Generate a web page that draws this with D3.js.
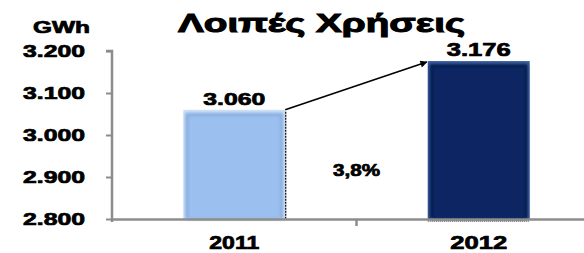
<!DOCTYPE html>
<html><head><meta charset="utf-8">
<script src="https://cdn.jsdelivr.net/npm/d3@7"></script>
<style>html,body{margin:0;padding:0;background:#fff;overflow:hidden}svg{display:block}text{font-family:"Liberation Sans",Arial,sans-serif;font-weight:bold;fill:#000;stroke:#000;stroke-width:0.7px}</style>
</head><body><svg id="c" width="584" height="253"></svg>
<script>
const categories = ["2011", "2012"];
const values = [3060, 3176];
const valueLabels = ["3.060", "3.176"];
const yTicks = [2800, 2900, 3000, 3100, 3200];
const yTickLabels = ["2.800", "2.900", "3.000", "3.100", "3.200"];
const title = "Λοιπές Χρήσεις";
const unit = "GWh";
const growthLabel = "3,8%";

const svg = d3.select("#c");
const y = d3.scaleLinear().domain([2800, 3200]).range([219, 51]);
const x = d3.scaleBand().domain(categories).range([112, 601]).padding(0);
const barW = x.bandwidth() * 0.417;
const bx = c => x(c) + (x.bandwidth() - barW) / 2;

const defs = svg.append("defs");
const f = defs.append("filter").attr("id", "soft").attr("x", "-20%").attr("y", "-20%").attr("width", "140%").attr("height", "140%");
f.append("feGaussianBlur").attr("stdDeviation", 1.6);

function stretchText(sel, len) {
  sel.attr("textLength", len).attr("lengthAdjust", "spacingAndGlyphs");
}

// title
stretchText(svg.append("text").attr("x", 178).attr("y", 32).attr("font-size", 25).style("stroke-width", "1px").text(title), 287);
// unit
stretchText(svg.append("text").attr("x", 33).attr("y", 33).attr("font-size", 16).text(unit), 57);

// y axis
const yAxis = d3.axisLeft(y).tickValues(yTicks).tickSize(6).tickFormat((d, i) => yTickLabels[i]);
const ga = svg.append("g").attr("transform", "translate(112,0)").call(yAxis);
ga.select(".domain").attr("stroke", "#8c8c8c").attr("stroke-width", 2.5).attr("d", "M-6,51H0V222");
ga.selectAll(".tick line").attr("stroke", "#8c8c8c").attr("stroke-width", 2);
ga.selectAll(".tick text").attr("font-size", 17).attr("x", -27).attr("dy", "0.34em")
  .attr("font-family", '"Liberation Sans",Arial,sans-serif').attr("font-weight", "bold").attr("fill", "#000")
  .attr("textLength", 62).attr("lengthAdjust", "spacingAndGlyphs");

// bars
const colors = [
  {edge: "#cfe2f8", base: "#9bbfee", dark: "#86abdf"},
  {edge: "#3d5fa0", base: "#0b2563", dark: "#061a4c"}
];
const bars = svg.append("g");
categories.forEach((c, i) => {
  const x0 = bx(c), y0 = y(values[i]), h = y(2800) - y0;
  const col = colors[i];
  bars.append("rect").attr("x", x0).attr("y", y0).attr("width", barW).attr("height", h).attr("fill", col.edge);
  bars.append("rect").attr("x", x0 + 2).attr("y", y0 + 3).attr("width", barW - 4).attr("height", h - 3).attr("fill", col.dark).attr("filter", "url(#soft)");
  bars.append("rect").attr("x", x0 + 5).attr("y", y0 + 6).attr("width", barW - 10).attr("height", h - 6).attr("fill", col.base).attr("filter", "url(#soft)");
});
// shadow dotted edges
bars.append("line").attr("x1", bx("2011") + barW + 0.5).attr("x2", bx("2011") + barW + 0.5)
  .attr("y1", y(values[0]) + 2).attr("y2", y(2800)).attr("stroke", "#000").attr("stroke-width", 1.2).attr("stroke-dasharray", "2,1");
bars.append("line").attr("x1", bx("2012")).attr("x2", bx("2012") + barW)
  .attr("y1", y(2800) + 2).attr("y2", y(2800) + 2).attr("stroke", "#000").attr("stroke-width", 1).attr("stroke-dasharray", "1,1");

// x axis
const xAxis = d3.axisBottom(x).tickSize(0).tickFormat(d => d);
const gx = svg.append("g").attr("transform", "translate(0,219)").call(xAxis);
gx.select(".domain").attr("stroke", "#8c8c8c").attr("stroke-width", 2.5);
gx.selectAll(".tick text").attr("font-size", 18).attr("y", 30).attr("dy", 0)
  .attr("font-family", '"Liberation Sans",Arial,sans-serif').attr("font-weight", "bold").attr("fill", "#000")
  .each(function(d) { d3.select(this).attr("textLength", d === "2011" ? 50 : 57).attr("lengthAdjust", "spacingAndGlyphs"); });
svg.append("line").attr("x1", x("2012")).attr("x2", x("2012")).attr("y1", 219).attr("y2", 226)
  .attr("stroke", "#8c8c8c").attr("stroke-width", 2.5);

// value labels
categories.forEach((c, i) => {
  stretchText(svg.append("text").attr("x", x(c) + x.bandwidth() / 2).attr("y", y(values[i]) - 5)
    .attr("text-anchor", "middle").attr("font-size", i ? 18 : 17).text(valueLabels[i]), i ? 64 : 62);
});

// arrow
defs.append("marker").attr("id", "ah").attr("viewBox", "0 0 10 10").attr("refX", 9).attr("refY", 5)
  .attr("markerWidth", 8).attr("markerHeight", 7).attr("orient", "auto").attr("markerUnits", "userSpaceOnUse")
  .append("path").attr("d", "M0,0L10,5L0,10z").attr("fill", "#000");
svg.append("line").attr("x1", bx("2011") + barW).attr("y1", y(values[0]))
  .attr("x2", bx("2012") - 1).attr("y2", y(values[1]) + 1)
  .attr("stroke", "#000").attr("stroke-width", 1.6).attr("marker-end", "url(#ah)");

// growth label
stretchText(svg.append("text").attr("x", x("2012")).attr("y", 175.5).attr("text-anchor", "middle")
  .attr("font-size", 16).text(growthLabel), 47);
</script></body></html>
